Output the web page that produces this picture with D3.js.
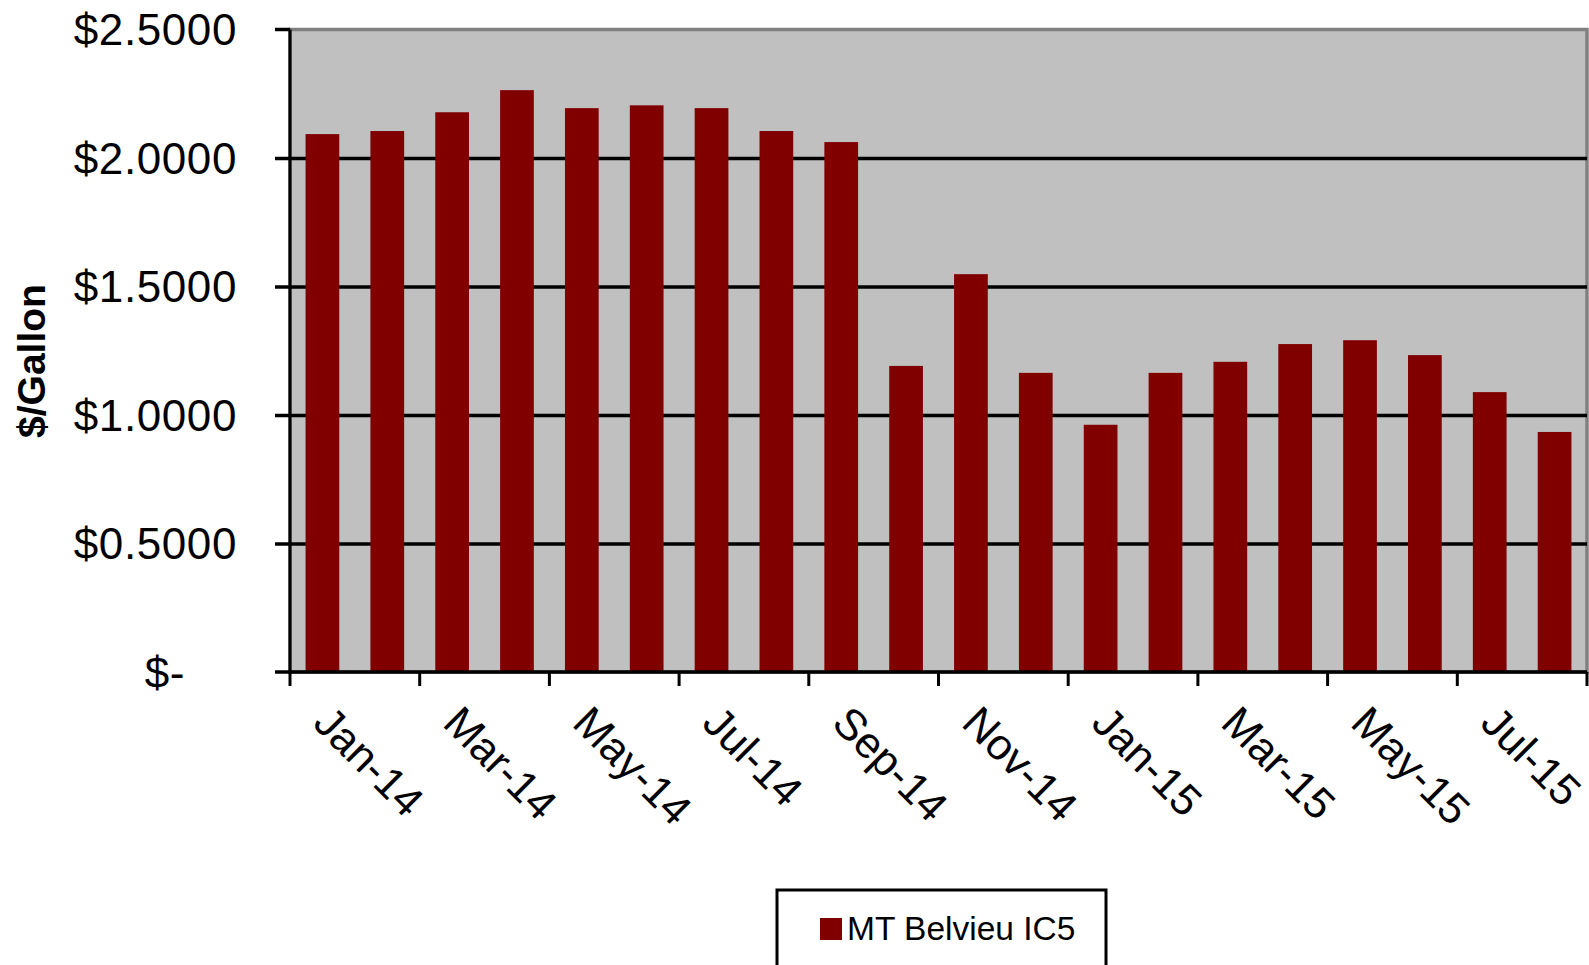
<!DOCTYPE html>
<html>
<head>
<meta charset="utf-8">
<script src="https://cdn.jsdelivr.net/npm/d3@7"></script>
<style>
  html, body { margin: 0; padding: 0; background: #fff; }
  svg { display: block; font-family: Arial, "Liberation Sans", sans-serif; }
</style>
</head>
<body>
<svg id="chart" width="1589" height="965"></svg>
<script>
// Monthly MT Belvieu IC5 price, $/gallon
const months = ["Jan-14","Feb-14","Mar-14","Apr-14","May-14","Jun-14","Jul-14","Aug-14","Sep-14","Oct-14",
                "Nov-14","Dec-14","Jan-15","Feb-15","Mar-15","Apr-15","May-15","Jun-15","Jul-15","Aug-15"];
const prices = [2.093, 2.105, 2.178, 2.264, 2.194, 2.205, 2.194, 2.105, 2.062, 1.191,
                1.548, 1.164, 0.962, 1.164, 1.207, 1.276, 1.291, 1.233, 1.089, 0.934];
const yTicks = [0, 0.5, 1.0, 1.5, 2.0, 2.5];
const yTickLabels = ["$-", "$0.5000", "$1.0000", "$1.5000", "$2.0000", "$2.5000"];
const xTickLabels = ["Jan-14","Mar-14","May-14","Jul-14","Sep-14","Nov-14","Jan-15","Mar-15","May-15","Jul-15"];
const seriesName = "MT Belvieu IC5";
const yTitle = "$/Gallon";

const svg = d3.select("#chart");
const plot = { left: 290, right: 1587, top: 29.5, bottom: 672 };

const x = d3.scaleBand()
  .domain(months)
  .range([plot.left, plot.right])
  .paddingInner(0.48)
  .paddingOuter(0.24);

const y = d3.scaleLinear()
  .domain([0, 2.5])
  .range([plot.bottom, plot.top]);

// plot area background and border
svg.append("rect")
  .attr("x", plot.left).attr("y", plot.top)
  .attr("width", plot.right - plot.left).attr("height", plot.bottom - plot.top)
  .attr("fill", "#c0c0c0")
  .attr("stroke", "#808080").attr("stroke-width", 3.5);

// horizontal gridlines with left tick stubs
const yAxis = d3.axisLeft(y)
  .tickValues(yTicks)
  .tickSize(-(plot.right - plot.left))
  .tickSizeOuter(0)
  .tickPadding(0)
  .tickFormat((d, i) => yTickLabels[i]);

const gy = svg.append("g")
  .attr("transform", `translate(${plot.left},0)`)
  .call(yAxis);
gy.select(".domain").remove();
gy.selectAll(".tick line")
  .attr("x1", -15)
  .attr("stroke", "#000")
  .attr("stroke-width", 3.5)
  .filter(d => d === 2.5 || d === 0).remove();
gy.selectAll(".tick text")
  .attr("x", -53)
  .attr("dy", "0.35em")
  .attr("fill", "#000")
  .style("font-size", "44px")
  .style("letter-spacing", "0.6px")
  .style("font-family", "Arial, 'Liberation Sans', sans-serif");
// the zero label keeps two digit-widths of trailing space, accounting style
gy.selectAll(".tick text").filter(d => d === 0).attr("x", -105);

// top tick stub for 2.5
svg.append("line")
  .attr("x1", plot.left - 15).attr("x2", plot.left)
  .attr("y1", y(2.5)).attr("y2", y(2.5))
  .attr("stroke", "#000").attr("stroke-width", 3.5);

// bars
svg.append("g").selectAll("rect")
  .data(prices)
  .join("rect")
  .attr("x", (d, i) => x(months[i]))
  .attr("y", d => y(d))
  .attr("width", x.bandwidth())
  .attr("height", d => y(0) - y(d))
  .attr("fill", "#800000");

// value axis line
svg.append("line")
  .attr("x1", plot.left).attr("x2", plot.left)
  .attr("y1", y(2.5)).attr("y2", plot.bottom + 2)
  .attr("stroke", "#000").attr("stroke-width", 3);

// category axis: line, ticks every other month on band edges
const step = x.step();
const edge = i => plot.left + i * step;
svg.append("line")
  .attr("x1", plot.left - 15).attr("x2", plot.right)
  .attr("y1", plot.bottom).attr("y2", plot.bottom)
  .attr("stroke", "#000").attr("stroke-width", 3.5);

svg.append("g").selectAll("line")
  .data(d3.range(0, months.length + 1, 2))
  .join("line")
  .attr("x1", i => edge(i)).attr("x2", i => edge(i))
  .attr("y1", plot.bottom).attr("y2", plot.bottom + 14)
  .attr("stroke", "#000").attr("stroke-width", 3);

// rotated month labels
svg.append("g").selectAll("text")
  .data(xTickLabels)
  .join("text")
  .attr("transform", d => `translate(${x(d) + x.bandwidth() / 2 - 11},725) rotate(45)`)
  .attr("text-anchor", "start")
  .attr("fill", "#000")
  .style("font-size", "43.5px")
  .text(d => d);

// axis title
svg.append("text")
  .attr("transform", "translate(45,361) rotate(-90)")
  .attr("text-anchor", "middle")
  .attr("fill", "#000")
  .style("font-size", "39px")
  .style("font-weight", "bold")
  .text(yTitle);

// legend
const legend = svg.append("g");
legend.append("rect")
  .attr("x", 777).attr("y", 890)
  .attr("width", 329).attr("height", 100)
  .attr("fill", "#fff").attr("stroke", "#000").attr("stroke-width", 3);
legend.append("rect")
  .attr("x", 820).attr("y", 918)
  .attr("width", 22).attr("height", 22)
  .attr("fill", "#800000");
legend.append("text")
  .attr("x", 847).attr("y", 940)
  .attr("fill", "#000")
  .style("font-size", "33.5px")
  .text(seriesName);
</script>
</body>
</html>
